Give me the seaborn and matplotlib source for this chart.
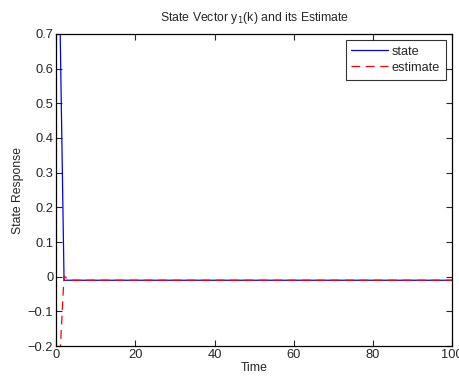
import numpy as np
import pandas as pd
import matplotlib
matplotlib.use("Agg")
import matplotlib.pyplot as plt
import seaborn as sns

# time steps and responses
time = list(range(1, 101))
state = [0.72] + [-0.01] * 99
estimate = [-0.22, 0.002, -0.007] + [-0.01] * 97

xticks = [0, 20, 40, 60, 80, 100]
xtick_labels = ["0", "20", "40", "60", "80", "100"]
yticks = [-0.2, -0.1, 0, 0.1, 0.2, 0.3, 0.4, 0.5, 0.6, 0.7]
ytick_labels = ["\u22120.2", "\u22120.1", "0", "0.1", "0.2", "0.3", "0.4", "0.5", "0.6", "0.7"]

df = pd.DataFrame({"Time": time, "state": state, "estimate": estimate})

sns.set_style("ticks")
plt.rcParams["font.family"] = ["Liberation Sans", "DejaVu Sans"]
plt.rcParams["font.size"] = 9

fig = plt.figure(figsize=(4.6, 3.8), dpi=100)
ax = fig.add_axes([0.122, 0.089, 0.861, 0.822])

sns.lineplot(data=df, x="Time", y="state", color="blue", linewidth=0.9, label="state", ax=ax)
sns.lineplot(data=df, x="Time", y="estimate", color="red", linewidth=0.9, label="estimate", ax=ax)
ax.lines[1].set_dashes([7, 4.5])

ax.set_xlim(0, 100)
ax.set_ylim(-0.2, 0.7)
ax.set_xticks(xticks)
ax.set_xticklabels(xtick_labels)
ax.set_yticks(yticks)
ax.set_yticklabels(ytick_labels)
ax.tick_params(direction="in", length=4, width=0.8, top=True, right=True, labelsize=9.3, pad=2)
for s in ax.spines.values():
    s.set_visible(True)
    s.set_linewidth(0.9)
    s.set_color("black")

ax.set_xlabel("Time", fontsize=8.8, labelpad=1)
ax.set_ylabel("State Response", fontsize=8.8, labelpad=3)
ax.set_title("State Vector y$_1$(k) and its Estimate", fontsize=8.8, pad=9)

leg = ax.legend(loc="upper right", frameon=True, fancybox=False, fontsize=9.2,
                handlelength=2.9, borderpad=0.45, labelspacing=0.3, handletextpad=0.25,
                borderaxespad=0.5)
leg.get_frame().set_edgecolor("black")
leg.get_frame().set_linewidth(0.8)
leg.get_lines()[1].set_dashes([7, 4.5])

fig.savefig("out.png", dpi=100)
